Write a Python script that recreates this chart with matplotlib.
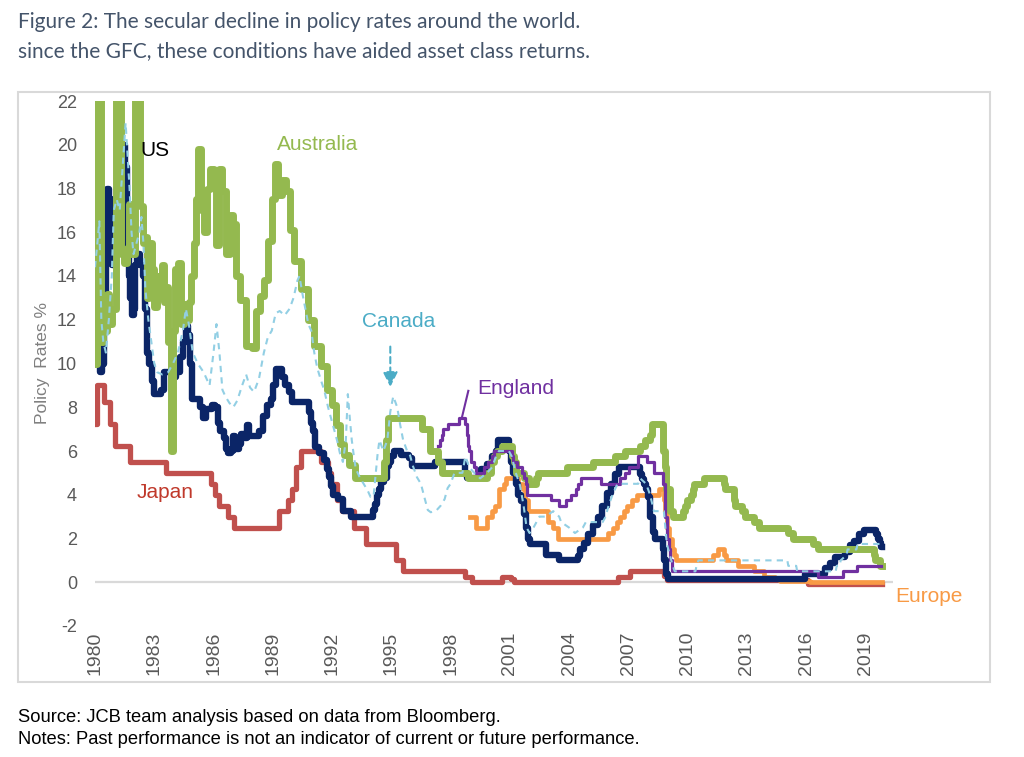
import matplotlib
matplotlib.use("Agg")
import matplotlib.pyplot as plt
from matplotlib.patches import Rectangle

plt.rcParams["axes.unicode_minus"] = False

# policy rates (%); years as decimal years
us_years = [1980.00, 1980.08, 1980.18, 1980.27, 1980.36, 1980.45, 1980.55, 1980.62, 1980.72, 1980.80,
            1980.88, 1980.95, 1981.05, 1981.20, 1981.35, 1981.50, 1981.60, 1981.70, 1981.78, 1981.85,
            1981.95, 1982.05, 1982.15, 1982.30, 1982.45, 1982.55, 1982.62, 1982.75, 1982.90, 1983.00,
            1983.35, 1983.50, 1983.95, 1984.10, 1984.30, 1984.45, 1984.60, 1984.72, 1984.80, 1984.90,
            1985.30, 1985.45, 1985.60, 1985.90, 1986.10, 1986.25, 1986.35, 1986.55, 1986.65, 1986.75,
            1986.90, 1987.00, 1987.10, 1987.30, 1987.40, 1987.60, 1987.70, 1987.80, 1988.30, 1988.50,
            1988.70, 1988.90, 1989.00, 1989.15, 1989.45, 1989.60, 1989.80, 1989.95, 1990.85, 1990.95,
            1991.05, 1991.15, 1991.35, 1991.60, 1991.75, 1991.85, 1991.95, 1992.05, 1992.30, 1992.55,
            1992.95, 1994.05, 1994.20, 1994.30, 1994.40, 1994.50, 1994.65, 1994.80, 1994.90, 1995.00,
            1995.15, 1995.50, 1995.90, 1996.05, 1997.20, 1998.75, 1998.85, 1998.95, 1999.45, 1999.55,
            1999.85, 2000.10, 2000.30, 2000.40, 2000.95, 2001.05, 2001.15, 2001.30, 2001.40, 2001.55,
            2001.70, 2001.80, 2001.90, 2002.00, 2002.85, 2003.50, 2004.45, 2004.55, 2004.75, 2004.95,
            2005.20, 2005.45, 2005.65, 2005.90, 2006.10, 2006.35, 2006.55, 2007.60, 2007.70, 2007.80,
            2007.90, 2008.00, 2008.10, 2008.25, 2008.35, 2008.75, 2008.82, 2008.90, 2009.00, 2015.95,
            2016.95, 2017.20, 2017.45, 2017.95, 2018.20, 2018.45, 2018.70, 2018.95, 2019.55, 2019.62,
            2019.72, 2019.80, 2019.85]
us_rates = [20.0, 17.0, 11.0, 9.6, 10.0, 12.0, 15.0, 18.0, 17.5, 16.0,
            14.5, 15.5, 17.5, 19.5, 20.0, 19.0, 15.0, 14.0, 13.0, 12.2,
            12.5, 14.5, 15.0, 14.5, 14.0, 12.5, 10.5, 10.0, 9.2, 8.6,
            8.8, 9.6, 9.4, 9.6, 10.3, 11.0, 11.7, 11.3, 10.0, 8.4,
            8.0, 7.5, 7.9, 8.1, 8.0, 7.3, 6.9, 6.6, 6.1, 5.9,
            6.0, 6.7, 6.1, 6.3, 6.8, 6.6, 7.2, 6.7, 6.9, 7.6,
            8.1, 8.4, 9.0, 9.75, 9.4, 9.0, 8.7, 8.25, 7.8, 7.3,
            6.9, 6.2, 5.9, 5.6, 5.2, 4.8, 4.4, 4.0, 3.8, 3.25,
            3.0, 3.3, 3.6, 4.0, 4.25, 4.6, 4.75, 5.3, 5.5, 5.75,
            6.0, 5.8, 5.7, 5.3, 5.5, 5.0, 4.75, 4.75, 5.0, 5.2,
            5.4, 5.75, 6.0, 6.5, 6.0, 5.5, 5.0, 4.5, 4.0, 3.7,
            3.1, 2.5, 2.0, 1.75, 1.25, 1.0, 1.2, 1.5, 1.8, 2.2,
            2.6, 3.0, 3.5, 4.1, 4.5, 4.95, 5.25, 4.95, 4.7, 4.5,
            4.25, 3.9, 3.0, 2.3, 2.0, 1.5, 1.0, 0.4, 0.15, 0.4,
            0.65, 0.9, 1.15, 1.4, 1.7, 1.9, 2.2, 2.4, 2.2, 2.0,
            1.8, 1.6, 1.6]

aus_years = [1980.00, 1980.10, 1980.30, 1980.40, 1980.50, 1980.62, 1980.72, 1980.85, 1981.05, 1981.30,
             1981.45, 1981.60, 1981.72, 1981.82, 1982.05, 1982.30, 1982.42, 1982.55, 1982.65, 1982.75,
             1982.88, 1983.00, 1983.12, 1983.25, 1983.38, 1983.50, 1983.62, 1983.72, 1983.85, 1983.95,
             1984.05, 1984.20, 1984.35, 1984.50, 1984.62, 1984.75, 1984.88, 1985.00, 1985.12, 1985.22,
             1985.35, 1985.50, 1985.65, 1985.80, 1986.00, 1986.15, 1986.28, 1986.45, 1986.65, 1986.82,
             1987.00, 1987.12, 1987.35, 1987.65, 1987.95, 1988.15, 1988.35, 1988.55, 1988.75, 1988.95,
             1989.10, 1989.25, 1989.45, 1989.65, 1989.85, 1990.05, 1990.45, 1990.80, 1991.10, 1991.45,
             1991.75, 1992.00, 1992.20, 1992.40, 1992.60, 1992.85, 1993.15, 1994.62, 1994.72, 1994.85,
             1996.55, 1996.95, 1997.35, 1997.55, 1998.90, 1999.85, 2000.05, 2000.20, 2000.35, 2000.60,
             2001.10, 2001.20, 2001.30, 2001.70, 2001.95, 2002.35, 2002.45, 2003.90, 2005.20, 2006.35,
             2006.85, 2007.60, 2007.85, 2008.10, 2008.20, 2008.75, 2008.85, 2008.92, 2009.10, 2009.25,
             2009.75, 2009.85, 2009.95, 2010.15, 2010.25, 2010.35, 2010.85, 2011.85, 2011.92, 2012.35,
             2012.42, 2012.75, 2012.92, 2013.35, 2013.60, 2015.10, 2015.35, 2016.35, 2016.60, 2019.42,
             2019.50, 2019.75, 2019.85]
aus_rates = [10.0, 23.0, 11.0, 12.8, 11.5, 13.2, 11.8, 12.5, 23.0, 15.0,
             14.6, 15.3, 17.3, 15.0, 23.0, 17.2, 15.5, 15.8, 13.0, 15.5,
             14.3, 12.6, 14.0, 13.0, 14.5, 12.8, 13.5, 11.0, 6.0, 11.5,
             14.3, 14.6, 11.8, 12.7, 12.0, 12.8, 14.0, 15.5, 17.5, 19.8,
             17.0, 16.0, 18.0, 18.9, 18.8, 15.4, 18.9, 17.9, 15.0, 16.8,
             16.4, 14.0, 12.9, 10.8, 10.7, 12.4, 13.1, 13.8, 15.6, 17.5,
             19.1, 17.7, 18.4, 17.9, 16.1, 14.7, 13.4, 12.0, 10.8, 9.9,
             8.8, 8.1, 7.2, 6.3, 5.8, 5.35, 4.75, 5.5, 6.5, 7.5,
             7.0, 6.0, 5.5, 5.0, 4.75, 5.0, 5.5, 5.75, 6.0, 6.25,
             5.75, 5.5, 5.0, 4.75, 4.5, 4.75, 5.0, 5.25, 5.5, 5.75,
             6.0, 6.25, 6.5, 6.75, 7.25, 6.0, 5.25, 4.25, 3.25, 3.0,
             3.25, 3.5, 3.75, 4.0, 4.25, 4.5, 4.75, 4.5, 4.25, 3.75,
             3.5, 3.25, 3.0, 2.75, 2.5, 2.25, 2.0, 1.75, 1.5, 1.25,
             1.0, 0.75, 0.75]

can_years = [1980.00, 1980.12, 1980.22, 1980.32, 1980.42, 1980.55, 1980.70, 1980.85, 1980.95, 1981.10,
             1981.25, 1981.40, 1981.55, 1981.65, 1981.75, 1981.85, 1981.95, 1982.10, 1982.25, 1982.35,
             1982.45, 1982.55, 1982.70, 1982.85, 1983.00, 1983.15, 1983.40, 1983.70, 1983.95, 1984.20,
             1984.45, 1984.60, 1984.75, 1984.95, 1985.20, 1985.50, 1985.80, 1986.00, 1986.15, 1986.30,
             1986.45, 1986.60, 1986.80, 1987.00, 1987.20, 1987.45, 1987.65, 1987.85, 1988.05, 1988.30,
             1988.55, 1988.75, 1988.95, 1989.15, 1989.35, 1989.60, 1989.85, 1990.05, 1990.25, 1990.35,
             1990.50, 1990.65, 1990.80, 1990.95, 1991.10, 1991.25, 1991.45, 1991.60, 1991.80, 1991.95,
             1992.10, 1992.25, 1992.40, 1992.55, 1992.70, 1992.80, 1992.90, 1993.00, 1993.10, 1993.20,
             1993.40, 1993.60, 1993.80, 1993.95, 1994.10, 1994.30, 1994.40, 1994.60, 1994.80, 1994.95,
             1995.10, 1995.30, 1995.45, 1995.60, 1995.80, 1995.95, 1996.10, 1996.30, 1996.50, 1996.70,
             1996.85, 1997.00, 1997.30, 1997.50, 1997.70, 1997.85, 1998.00, 1998.20, 1998.60, 1998.75,
             1998.95, 1999.20, 1999.50, 1999.85, 2000.10, 2000.30, 2000.45, 2000.95, 2001.10, 2001.30,
             2001.50, 2001.70, 2001.85, 2002.00, 2002.20, 2002.35, 2002.50, 2002.80, 2003.20, 2003.50,
             2003.60, 2004.00, 2004.30, 2004.70, 2004.85, 2005.70, 2005.85, 2006.00, 2006.20, 2006.45,
             2007.50, 2007.60, 2007.90, 2008.10, 2008.30, 2008.80, 2008.85, 2008.95, 2009.10, 2009.25,
             2009.35, 2010.40, 2010.45, 2010.55, 2015.05, 2015.10, 2015.50, 2015.55, 2017.50, 2017.55,
             2017.70, 2017.75, 2018.05, 2018.10, 2018.55, 2018.60, 2019.85]
can_rates = [14.4, 15.5, 16.5, 12.0, 11.0, 10.5, 12.0, 14.0, 17.0, 17.5,
             17.0, 19.0, 21.0, 19.5, 18.0, 16.0, 15.0, 15.5, 16.0, 16.7,
             15.5, 13.4, 12.0, 11.0, 10.0, 9.6, 9.5, 9.6, 10.0, 10.5,
             11.5, 12.5, 11.8, 10.5, 10.0, 9.6, 9.0, 10.5, 11.8, 10.5,
             8.8, 8.5, 8.2, 8.0, 8.3, 9.0, 9.5, 8.9, 8.7, 9.3,
             10.5, 11.2, 11.5, 12.3, 12.4, 12.2, 12.5, 13.0, 13.8, 14.0,
             13.2, 12.5, 11.8, 11.5, 10.5, 9.8, 9.2, 8.8, 8.0, 7.5,
             7.0, 6.5, 5.9, 5.5, 6.5, 8.6, 7.5, 6.5, 5.8, 5.2,
             4.8, 4.5, 4.2, 3.9, 3.9, 5.8, 6.5, 6.0, 6.5, 7.8,
             8.5, 8.0, 7.2, 6.5, 6.0, 5.8, 5.3, 4.8, 4.5, 3.8,
             3.3, 3.2, 3.3, 3.5, 3.8, 4.3, 4.5, 5.0, 5.0, 5.75,
             5.25, 5.0, 4.75, 5.0, 5.25, 5.75, 6.0, 6.0, 5.75, 5.0,
             4.5, 3.5, 2.5, 2.25, 2.5, 2.75, 3.0, 3.0, 3.25, 3.0,
             2.75, 2.5, 2.25, 2.5, 2.75, 2.75, 3.0, 3.5, 4.0, 4.5,
             4.5, 4.75, 4.5, 4.0, 3.25, 3.25, 2.75, 1.75, 1.25, 0.75,
             0.5, 0.5, 0.75, 1.0, 1.0, 0.75, 0.75, 0.5, 0.5, 0.75,
             0.75, 1.0, 1.25, 1.5, 1.5, 1.75, 1.75]

eng_years = [1997.35, 1997.45, 1997.55, 1997.62, 1997.85, 1998.45, 1998.75, 1998.82, 1998.90, 1998.95,
             1999.05, 1999.20, 1999.30, 1999.70, 1999.90, 2000.10, 2000.20, 2001.10, 2001.15, 2001.35,
             2001.60, 2001.70, 2001.80, 2001.85, 2003.10, 2003.50, 2003.85, 2004.10, 2004.35, 2004.45,
             2004.60, 2005.60, 2006.60, 2006.85, 2007.05, 2007.50, 2007.95, 2008.30, 2008.75, 2008.85,
             2008.95, 2009.05, 2009.10, 2009.20, 2016.60, 2017.85, 2018.60, 2019.80]
eng_rates = [6.25, 6.5, 6.75, 7.0, 7.25, 7.5, 7.25, 6.75, 6.25, 6.0,
             5.5, 5.25, 5.0, 5.25, 5.5, 5.75, 6.0, 5.75, 5.5, 5.25,
             5.0, 4.75, 4.5, 4.0, 3.75, 3.5, 3.75, 4.0, 4.25, 4.5,
             4.75, 4.5, 4.75, 5.0, 5.25, 5.75, 5.5, 5.0, 4.5, 3.0,
             2.0, 1.5, 1.0, 0.5, 0.25, 0.5, 0.75, 0.75]

eur_years = [1999.00, 1999.30, 1999.85, 2000.10, 2000.25, 2000.45, 2000.70, 2000.80, 2001.40, 2001.65,
             2001.75, 2001.90, 2002.95, 2003.20, 2003.45, 2005.95, 2006.20, 2006.45, 2006.60, 2006.80,
             2006.95, 2007.20, 2007.45, 2008.55, 2008.80, 2008.85, 2008.95, 2009.05, 2009.20, 2009.30,
             2009.40, 2011.30, 2011.55, 2011.85, 2011.95, 2012.55, 2013.35, 2013.85, 2014.45, 2014.70,
             2016.20, 2019.85]
eur_rates = [3.0, 2.5, 3.0, 3.25, 3.5, 4.25, 4.5, 4.75, 4.5, 4.25,
             3.75, 3.25, 2.75, 2.5, 2.0, 2.25, 2.5, 2.75, 3.0, 3.25,
             3.5, 3.75, 4.0, 4.25, 3.75, 3.25, 2.5, 2.0, 1.5, 1.25,
             1.0, 1.25, 1.5, 1.25, 1.0, 0.75, 0.5, 0.25, 0.15, 0.05,
             0.0, 0.0]

jpn_years = [1980.00, 1980.10, 1980.45, 1980.75, 1981.00, 1981.75, 1983.60, 1985.85, 1986.10, 1986.30,
             1986.75, 1987.05, 1989.30, 1989.75, 1989.95, 1990.20, 1990.45, 1991.45, 1991.80, 1991.95,
             1992.25, 1992.50, 1993.10, 1993.70, 1995.25, 1995.60, 1998.75, 1999.10, 2000.60, 2001.05,
             2001.20, 2006.50, 2007.10, 2008.80, 2008.95, 2016.10, 2019.85]
jpn_rates = [7.25, 9.0, 8.25, 7.25, 6.25, 5.5, 5.0, 4.5, 4.0, 3.5,
             3.0, 2.5, 3.25, 3.75, 4.25, 5.25, 6.0, 5.5, 5.0, 4.5,
             3.75, 3.25, 2.5, 1.75, 1.0, 0.5, 0.25, 0.03, 0.25, 0.15,
             0.02, 0.25, 0.5, 0.3, 0.1, -0.1, -0.1]

tick_years = list(range(1980, 2020, 3))
y_ticks = list(range(-2, 23, 2))

c_us = "#0B2567"
c_aus = "#94B94F"
c_can = "#92CFE4"
c_can_txt = "#4BACC6"
c_eng = "#7030A0"
c_eur = "#F89A45"
c_jpn = "#C0504D"

fig = plt.figure(figsize=(10.24, 7.57), dpi=100)
ax = fig.add_axes([95/1024, 1 - 626/757, (893 - 95)/1024, (626 - 101)/757])

ax.axhline(0, color="#D9D9D9", lw=1.6, zorder=0.5)

ax.plot(jpn_years, jpn_rates, color=c_jpn, lw=3.8, drawstyle="steps-post", zorder=2)
ax.plot(eur_years, eur_rates, color=c_eur, lw=3.4, drawstyle="steps-post", zorder=3)
ax.plot(us_years, us_rates, color=c_us, lw=4.6, drawstyle="steps-post", zorder=4)
ax.plot(aus_years, aus_rates, color=c_aus, lw=5.0, drawstyle="steps-post", zorder=5)
ax.plot(eng_years, eng_rates, color=c_eng, lw=2.3, drawstyle="steps-post", zorder=6)
ax.plot(can_years, can_rates, color=c_can, lw=1.5, ls=(0, (3, 2.5)), zorder=7)

ax.set_xlim(1980, 2020.4)
ax.set_ylim(-2, 22)
ax.set_xticks(tick_years)
ax.set_xticklabels([str(y) for y in tick_years], rotation=90)
ax.set_yticks(y_ticks)
ax.tick_params(length=0, colors="#595959", labelsize=13)
ax.tick_params(axis="y", pad=13)
ax.tick_params(axis="x", pad=4, labelsize=14)
for lbl in ax.get_xticklabels() + ax.get_yticklabels():
    lbl.set_family("Liberation Sans")
for s in ax.spines.values():
    s.set_visible(False)
ax.set_ylabel("Policy  Rates %", color="#7F7F7F", fontsize=12.5, family="Liberation Sans", labelpad=5)

lab = dict(family="Liberation Sans", fontsize=15, va="center", zorder=10)
ax.text(1982.28, 19.76, "US", color="black", **lab)
ax.text(1989.2, 20.0, "Australia", color=c_aus, **lab)
ax.text(1995.35, 11.9, "Canada", color=c_can_txt, ha="center", **lab)
ax.text(1999.35, 8.87, "England", color=c_eng, **lab)
ax.text(1982.1, 4.12, "Japan", color="#C0392B", **lab)
ax.text(2020.5, -0.64, "Europe", color=c_eur, clip_on=False, **lab)

ax.annotate("", xy=(1994.95, 8.8), xytext=(1994.95, 10.9),
            arrowprops=dict(arrowstyle="-|>,head_length=0.9,head_width=0.45", color=c_can_txt,
                            lw=1.5, ls=(0, (3, 2))))
ax.plot([1998.9, 1998.58], [8.75, 7.55], color=c_eng, lw=1.5, zorder=6)

fig.patches.append(Rectangle((18/1024, 1 - 682/757), (990 - 18)/1024, (682 - 92)/757,
                             transform=fig.transFigure, fill=False, ec="#D9D9D9", lw=1.5))

fig.text(18/1024, 1 - 22/757, "Figure 2: The secular decline in policy rates around the world.",
         family="Lato", fontsize=15, color="#44546A", va="center")
fig.text(18/1024, 1 - 51/757, "since the GFC, these conditions have aided asset class returns.",
         family="Lato", fontsize=15, color="#44546A", va="center")
fig.text(18/1024, 1 - 717/757, "Source: JCB team analysis based on data from Bloomberg.",
         family="Liberation Sans", fontsize=13.2, color="black", va="center")
fig.text(18/1024, 1 - 740/757, "Notes: Past performance is not an indicator of current or future performance.",
         family="Liberation Sans", fontsize=13.2, color="black", va="center")

fig.savefig("out.png", dpi=100)
